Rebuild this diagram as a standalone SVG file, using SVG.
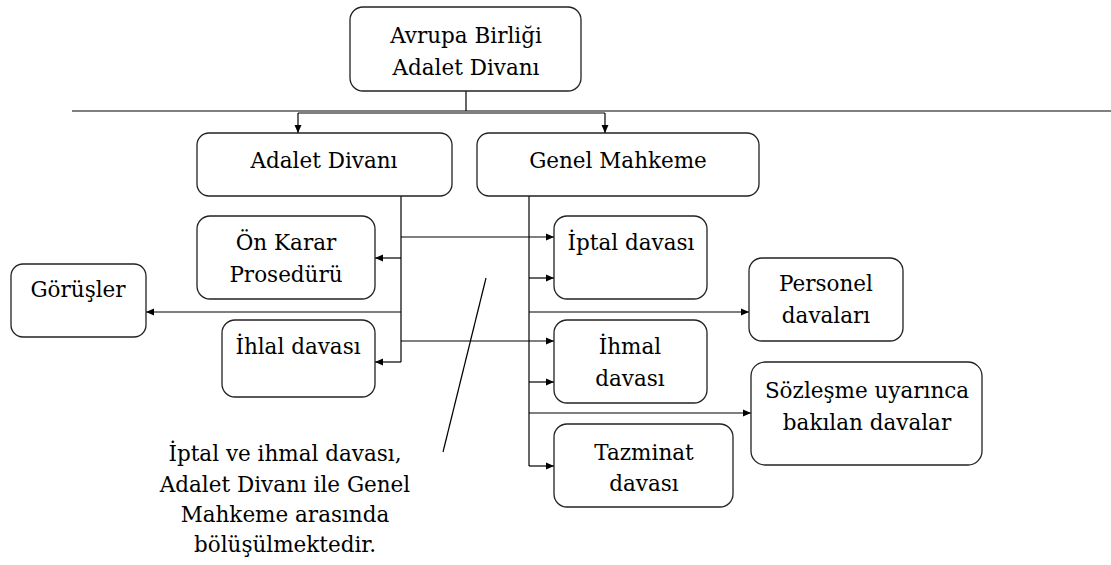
<svg xmlns="http://www.w3.org/2000/svg" width="1111" height="565" viewBox="0 0 1111 565">
<style>
.box{fill:#fff;stroke:#222;stroke-width:1.3}
.t{font-family:'DejaVu Serif',serif;font-size:21.5px;fill:#000;text-anchor:middle}
.c{stroke:#000;stroke-width:1.2;fill:none}
.a{marker-end:url(#arr)}
</style>
<defs>
<marker id="arr" markerUnits="userSpaceOnUse" markerWidth="8" markerHeight="8" refX="8" refY="4" orient="auto">
<path d="M0,0.5 L8,4 L0,7.5 Z" fill="#000"/>
</marker>
</defs>
<rect width="1111" height="565" fill="#fff"/>
<g id="connectors">
<line class="c" x1="466" y1="91" x2="466" y2="111"/>
<line class="c" x1="72" y1="111" x2="1111" y2="111"/>
<line class="c" x1="298" y1="113" x2="605" y2="113"/>
<line class="c a" x1="298" y1="113" x2="298" y2="133"/>
<line class="c a" x1="605" y1="113" x2="605" y2="133"/>
<line class="c" x1="401" y1="196" x2="401" y2="362"/>
<line class="c a" x1="401" y1="258" x2="375" y2="258"/>
<line class="c a" x1="401" y1="362" x2="375" y2="362"/>
<line class="c a" x1="401" y1="237" x2="554" y2="237"/>
<line class="c a" x1="401" y1="341" x2="554" y2="341"/>
<line class="c a" x1="401" y1="312" x2="146" y2="312"/>
<line class="c" x1="529" y1="196" x2="529" y2="466"/>
<line class="c a" x1="529" y1="278" x2="554" y2="278"/>
<line class="c a" x1="529" y1="312" x2="749" y2="312"/>
<line class="c a" x1="529" y1="382" x2="554" y2="382"/>
<line class="c a" x1="529" y1="413" x2="751" y2="413"/>
<line class="c a" x1="529" y1="466" x2="554" y2="466"/>
<line class="c" x1="486" y1="278" x2="443" y2="452"/>
</g>
<g id="n-top">
<rect class="box" x="350" y="7" width="231" height="84" rx="13"/>
<text class="t" x="466" y="43">Avrupa Birliği</text>
<text class="t" x="466" y="75">Adalet Divanı</text>
</g>
<g id="n-adalet">
<rect class="box" x="197" y="133" width="255" height="63" rx="12"/>
<text class="t" x="324" y="168">Adalet Divanı</text>
</g>
<g id="n-genel">
<rect class="box" x="477" y="133" width="282" height="63" rx="12"/>
<text class="t" x="618" y="168">Genel Mahkeme</text>
</g>
<g id="n-onkarar">
<rect class="box" x="197" y="216" width="178" height="83" rx="13"/>
<text class="t" x="286" y="250">Ön Karar</text>
<text class="t" x="286" y="282">Prosedürü</text>
</g>
<g id="n-gorusler">
<rect class="box" x="11" y="264" width="135" height="73" rx="12"/>
<text class="t" x="78" y="297">Görüşler</text>
</g>
<g id="n-ihlal">
<rect class="box" x="222" y="320" width="153" height="77" rx="13"/>
<text class="t" x="298" y="354">İhlal davası</text>
</g>
<g id="n-iptal">
<rect class="box" x="554" y="216" width="153" height="83" rx="13"/>
<text class="t" x="631" y="250">İptal davası</text>
</g>
<g id="n-personel">
<rect class="box" x="749" y="258" width="154" height="83" rx="13"/>
<text class="t" x="826" y="291">Personel</text>
<text class="t" x="826" y="323">davaları</text>
</g>
<g id="n-ihmal">
<rect class="box" x="554" y="320" width="153" height="83" rx="13"/>
<text class="t" x="630" y="354">İhmal</text>
<text class="t" x="630" y="386">davası</text>
</g>
<g id="n-sozlesme">
<rect class="box" x="751" y="362" width="231" height="103" rx="14"/>
<text class="t" x="867" y="398">Sözleşme uyarınca</text>
<text class="t" x="867" y="430">bakılan davalar</text>
</g>
<g id="n-tazminat">
<rect class="box" x="554" y="424" width="179" height="83" rx="13"/>
<text class="t" x="644" y="460">Tazminat</text>
<text class="t" x="644" y="491">davası</text>
</g>
<g id="note">
<text class="t" x="285" y="461">İptal ve ihmal davası,</text>
<text class="t" x="285" y="492">Adalet Divanı ile Genel</text>
<text class="t" x="285" y="522">Mahkeme arasında</text>
<text class="t" x="285" y="552">bölüşülmektedir.</text>
</g>
</svg>
